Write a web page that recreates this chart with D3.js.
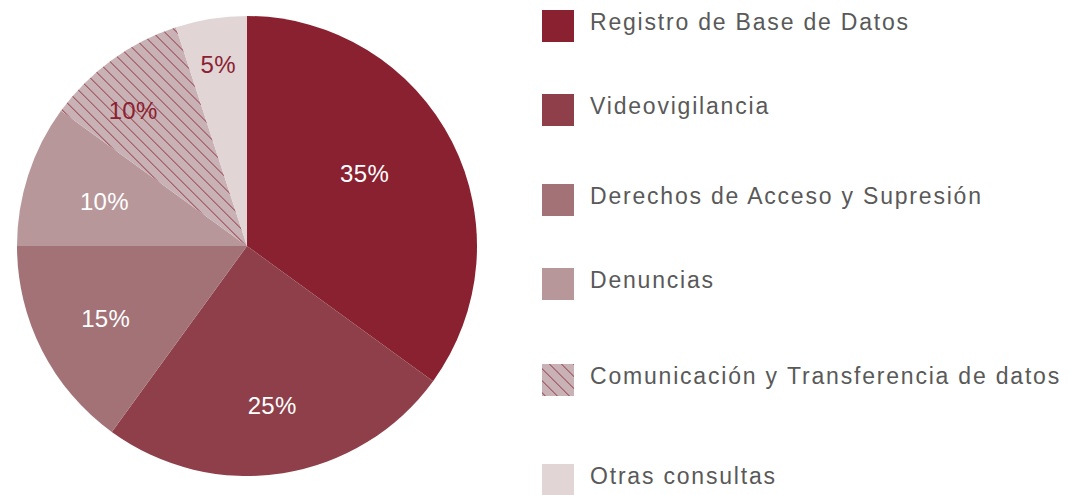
<!DOCTYPE html>
<html>
<head>
<meta charset="utf-8">
<script src="https://cdn.jsdelivr.net/npm/d3@7"></script>
<style>
  html, body { margin: 0; padding: 0; background: #fff; }
  svg { display: block; }
</style>
</head>
<body>
<svg id="chart" width="1071" height="495"></svg>
<script>
// data
const categories = [
  'Registro de Base de Datos',
  'Videovigilancia',
  'Derechos de Acceso y Supresión',
  'Denuncias',
  'Comunicación y\u00A0Transferencia de datos',
  'Otras consultas'
];
const values = [35, 25, 15, 10, 10, 5];
const labels = ['35%', '25%', '15%', '10%', '10%', '5%'];

// styles
const fills = ['#8a2131', '#8e3f49', '#a37276', '#b8979a', '#c9b2b5', '#e1d5d6'];
const hatched = [false, false, false, false, true, false];
const labelColors = ['#fff', '#fff', '#fff', '#fff', '#8a2131', '#8a2131'];
const labelRadius = [0.6, 0.7, 0.69, 0.65, 0.77, 0.8];
const labelShift = [-0.08, 0, 0, -0.01, -0.07, 0]; // radians, nudges off the mid angle
const legendY = [26, 110, 200, 284, 380, 480];

const W = 1071, H = 495;
const cx = 247, cy = 246, R = 230;

const svg = d3.select('#chart');
const defs = svg.append('defs');

const pat = defs.append('pattern')
  .attr('id', 'hatch')
  .attr('patternUnits', 'userSpaceOnUse')
  .attr('width', 8.5)
  .attr('height', 8.5)
  .attr('patternTransform', 'rotate(45)');
pat.append('rect').attr('width', 8.5).attr('height', 8.5).attr('fill', fills[4]);
pat.append('line')
  .attr('x1', 0).attr('y1', 0).attr('x2', 8.5).attr('y2', 0)
  .attr('stroke', '#9a4552').attr('stroke-width', 1.8);

const fillOf = i => hatched[i] ? 'url(#hatch)' : fills[i];

const pie = d3.pie().sort(null).value(d => d)(values);
const arc = d3.arc().innerRadius(0).outerRadius(R);

const g = svg.append('g').attr('transform', `translate(${cx},${cy})`);

g.selectAll('path.slice')
  .data(pie)
  .join('path')
  .attr('class', 'slice')
  .attr('d', arc)
  .attr('fill', (d, i) => fillOf(i));

g.selectAll('text.pct')
  .data(pie)
  .join('text')
  .attr('class', 'pct')
  .attr('transform', (d, i) => {
    const a = (d.startAngle + d.endAngle) / 2 + labelShift[i];
    const r = R * labelRadius[i];
    return `translate(${r * Math.sin(a)},${-r * Math.cos(a)})`;
  })
  .attr('text-anchor', 'middle')
  .attr('dominant-baseline', 'central')
  .attr('fill', (d, i) => labelColors[i])
  .style('font', '24px "Liberation Sans", Arial, sans-serif')
  .style('letter-spacing', '0.3px')
  .text((d, i) => labels[i]);

// legend
const legend = svg.append('g').attr('class', 'legend');
const items = legend.selectAll('g.item')
  .data(categories)
  .join('g')
  .attr('class', 'item')
  .attr('transform', (d, i) => `translate(542,${legendY[i]})`);

items.append('rect')
  .attr('x', 0).attr('y', -16)
  .attr('width', 32).attr('height', 32)
  .attr('fill', (d, i) => fillOf(i));

items.append('text')
  .attr('x', 48).attr('y', -4)
  .attr('dominant-baseline', 'central')
  .attr('fill', '#595959')
  .style('font', '23px "Liberation Sans", Arial, sans-serif')
  .style('letter-spacing', '1.8px')
  .text(d => d);
</script>
</body>
</html>
